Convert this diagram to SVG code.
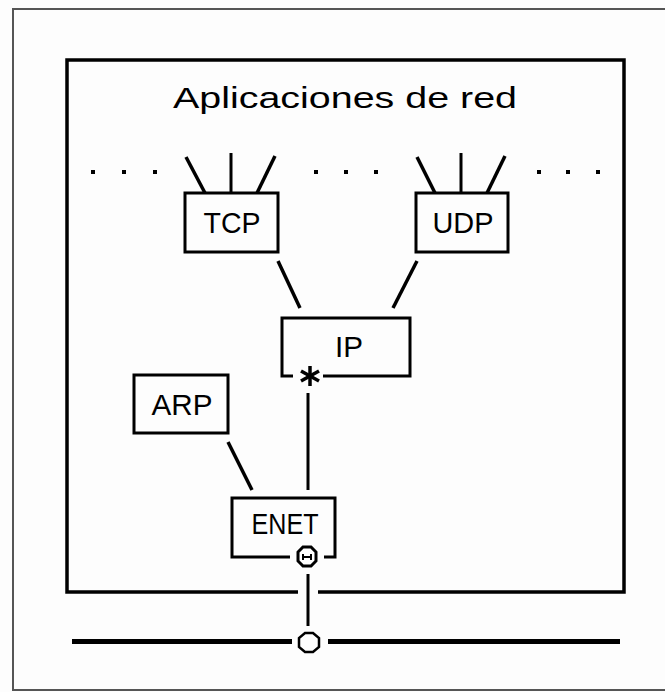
<svg xmlns="http://www.w3.org/2000/svg" width="665" height="692" viewBox="0 0 665 692">
<style>
.box{fill:none;stroke:#000;stroke-width:3;stroke-linejoin:miter}
.lbl{font-family:"Liberation Sans",Arial,sans-serif;font-size:29px;fill:#000;text-anchor:middle}
.con{stroke:#000;stroke-width:3.5;fill:none;stroke-linecap:butt}
.vert{stroke:#000;stroke-width:3;fill:none}
.dot{fill:#000}
</style>
<rect width="665" height="692" fill="#fdfdfd"/>
<rect x="13" y="9" width="662" height="681" fill="none" stroke="#555" stroke-width="2"/>
<g id="host">
<path d="M298,592 H67 V60 H624 V592 H318" fill="none" stroke="#000" stroke-width="3.5"/>
<text class="lbl" x="345" y="108" textLength="344" lengthAdjust="spacingAndGlyphs">Aplicaciones de red</text>
</g>
<g id="dots">
<rect class="dot" x="91" y="170" width="4" height="4"/>
<rect class="dot" x="122" y="170" width="4" height="4"/>
<rect class="dot" x="153" y="170" width="4" height="4"/>
<rect class="dot" x="314" y="170" width="4" height="4"/>
<rect class="dot" x="344" y="170" width="4" height="4"/>
<rect class="dot" x="374" y="170" width="4" height="4"/>
<rect class="dot" x="537" y="170" width="4" height="4"/>
<rect class="dot" x="566" y="170" width="4" height="4"/>
<rect class="dot" x="596" y="170" width="4" height="4"/>
</g>
<g id="tcp">
<rect class="box" x="185" y="193" width="93" height="59"/>
<text class="lbl" x="232" y="233" textLength="57" lengthAdjust="spacingAndGlyphs">TCP</text>
</g>
<g id="udp">
<rect class="box" x="416" y="193" width="92" height="59"/>
<text class="lbl" x="463" y="233" textLength="61" lengthAdjust="spacingAndGlyphs">UDP</text>
</g>
<g id="ip">
<path class="box" d="M293,376 H282 V318 H410 V376 H323"/>
<text class="lbl" x="349" y="357" textLength="28" lengthAdjust="spacingAndGlyphs">IP</text>
<g stroke="#000" stroke-width="3.5">
<line x1="310" y1="366" x2="310" y2="386"/>
<line x1="301" y1="371" x2="319" y2="381"/>
<line x1="301" y1="381" x2="319" y2="371"/>
</g>
</g>
<g id="arp">
<rect class="box" x="134" y="375" width="94" height="58"/>
<text class="lbl" x="182" y="415" textLength="61" lengthAdjust="spacingAndGlyphs">ARP</text>
</g>
<g id="enet">
<path class="box" d="M290,557 H232 V498 H335 V557 H324"/>
<text class="lbl" x="285" y="534" textLength="67" lengthAdjust="spacingAndGlyphs">ENET</text>
<polygon points="303,547 311,547 316,552 316,561 311,566 303,566 298,561 298,552" fill="#fff" stroke="#000" stroke-width="3"/>
<path d="M303,554 V560 M311,554 V560 M303,557 H311" stroke="#000" stroke-width="2" fill="none"/>
</g>
<g id="network">
<line x1="72" y1="641.5" x2="292" y2="641.5" stroke="#000" stroke-width="5"/>
<line x1="328" y1="641.5" x2="620" y2="641.5" stroke="#000" stroke-width="5"/>
<polygon points="305,633 313,633 319,638 319,647 313,652 305,652 299,647 299,638" fill="#fff" stroke="#000" stroke-width="2.5"/>
</g>
<g id="connectors">
<line class="con" x1="186" y1="157" x2="205" y2="193"/>
<line class="vert" x1="231" y1="153" x2="231" y2="193"/>
<line class="con" x1="275" y1="156" x2="257" y2="193"/>
<line class="con" x1="417" y1="157" x2="435" y2="193"/>
<line class="vert" x1="461" y1="153" x2="461" y2="193"/>
<line class="con" x1="505" y1="156" x2="487" y2="193"/>
<line class="con" x1="278" y1="261" x2="300" y2="308"/>
<line class="con" x1="417" y1="261" x2="393" y2="308"/>
<line class="con" x1="228" y1="442" x2="252" y2="490"/>
<line class="vert" x1="308" y1="393" x2="308" y2="490"/>
<line class="vert" x1="308" y1="574" x2="308" y2="626"/>
</g>
</svg>
